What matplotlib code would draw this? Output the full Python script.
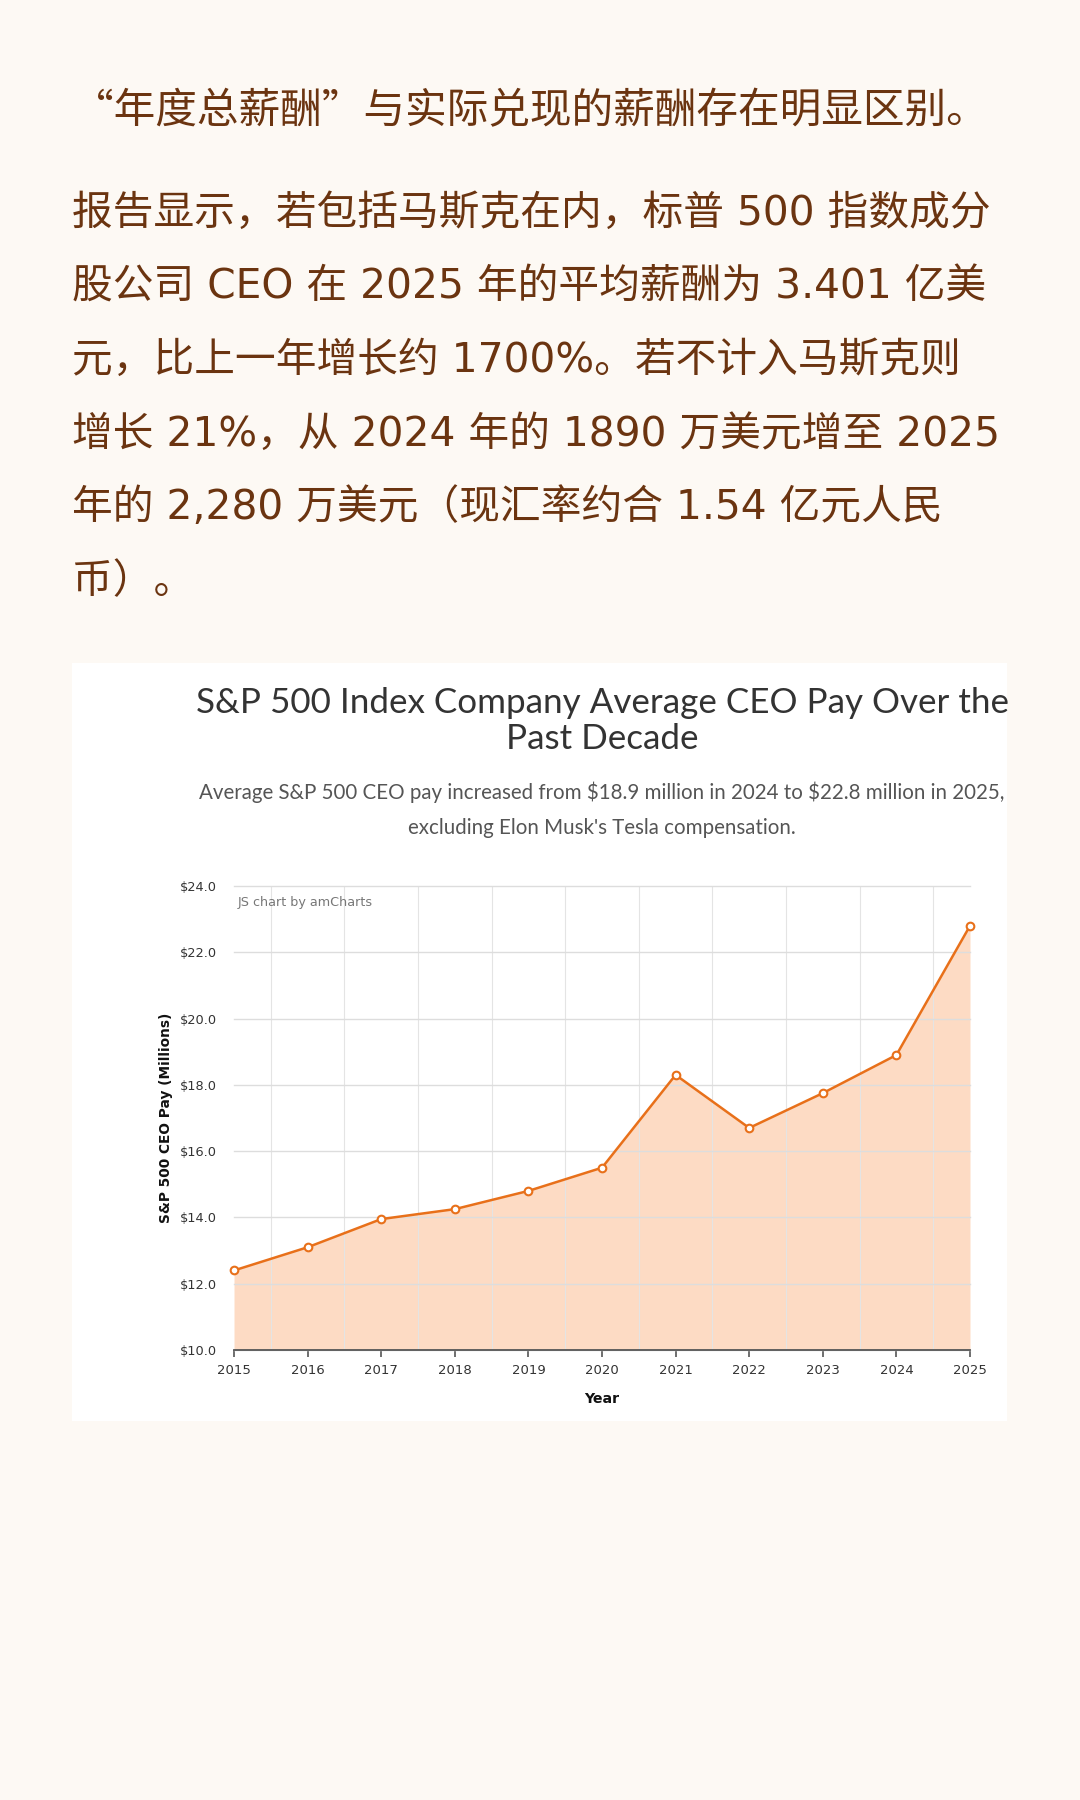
import matplotlib
matplotlib.use("Agg")
import matplotlib.pyplot as plt
from matplotlib.patches import Rectangle

# ---- data -------------------------------------------------------------
YEARS = [2015, 2016, 2017, 2018, 2019, 2020, 2021, 2022, 2023, 2024, 2025]
CEO_PAY = [12.4, 13.1, 13.95, 14.25, 14.8, 15.5, 18.3, 16.7, 17.75, 18.9, 22.8]
Y_TICKS = [10, 12, 14, 16, 18, 20, 22, 24]

INTRO_LINES = [
    "“年度总薪酬”与实际兑现的薪酬存在明显区别。",
]
PARA_LINES = [
    "报告显示，若包括马斯克在内，标普 500 指数成分",
    "股公司 CEO 在 2025 年的平均薪酬为 3.401 亿美",
    "元，比上一年增长约 1700%。若不计入马斯克则",
    "增长 21%，从 2024 年的 1890 万美元增至 2025",
    "年的 2,280 万美元（现汇率约合 1.54 亿元人民",
    "币）。",
]
TITLE = "S&P 500 Index Company Average CEO Pay Over the\nPast Decade"
SUBTITLE = ("Average S&P 500 CEO pay increased from \\$18.9 million in 2024 to \\$22.8 million in 2025,\n"
            "excluding Elon Musk's Tesla compensation.")

# ---- style ------------------------------------------------------------
W, H = 1080, 1800
BG = "#FDF9F4"
TEXT_BROWN = "#6B3410"
LINE_ORANGE = "#E8701A"
CJK = ["Noto Sans CJK SC", "DejaVu Sans"]
MIXED = ["DejaVu Sans", "Noto Sans CJK SC"]


def fx(px):
    return px / W


def fy(py):
    return 1 - py / H


fig = plt.figure(figsize=(W / 100, H / 100), dpi=100, facecolor=BG)

# article text
fig.text(fx(72), fy(112), INTRO_LINES[0], family=CJK, fontsize=30,
         color=TEXT_BROWN, ha="left", va="center")
for i, line in enumerate(PARA_LINES):
    fig.text(fx(72), fy(214 + i * 73.6), line, family=MIXED, fontsize=29.3,
             color=TEXT_BROWN, ha="left", va="center")

# white chart card
card = Rectangle((fx(72), fy(1421)), fx(1007 - 72), (1421 - 663) / H,
                 transform=fig.transFigure, facecolor="white",
                 edgecolor="none", zorder=-5)
fig.add_artist(card)

fig.text(fx(602), fy(721), TITLE, family="Lato", fontsize=25.2, color="#333333",
         ha="center", va="center", linespacing=1.18)
fig.text(fx(602), fy(810), SUBTITLE, family="Lato", fontsize=14.8, color="#555555",
         ha="center", va="center", linespacing=1.95)

# chart axes
ax = fig.add_axes([fx(234), fy(1350), fx(970 - 234), (1350 - 886) / H])
ax.set_facecolor("white")
ax.fill_between(YEARS, CEO_PAY, 10, color="#F98A3C", alpha=0.3, lw=0, zorder=1)
ax.plot(YEARS, CEO_PAY, color=LINE_ORANGE, lw=1.8, zorder=3,
        marker="o", markersize=5.5, markerfacecolor="white",
        markeredgecolor=LINE_ORANGE, markeredgewidth=1.5, clip_on=False)

ax.set_xlim(2015, 2025)
ax.set_ylim(10, 24)
ax.set_yticks(Y_TICKS)
ax.set_yticklabels([f"\\${v:.1f}" for v in Y_TICKS])
ax.set_xticks(YEARS)
ax.set_xticklabels([str(y) for y in YEARS])
ax.set_xticks([y + 0.5 for y in YEARS[:-1]], minor=True)

ax.grid(axis="y", which="major", color="#DDDDDD", lw=1.0, zorder=2)
ax.grid(axis="x", which="minor", color="#E4E4E4", lw=0.8, zorder=2)
ax.grid(axis="x", which="major", visible=False)
for gl in ax.get_ygridlines():
    gl.set_clip_on(False)

for side in ("top", "right", "left"):
    ax.spines[side].set_visible(False)
ax.spines["bottom"].set_color("#555555")
ax.spines["bottom"].set_linewidth(1.3)
ax.spines["bottom"].set_zorder(4)

ax.tick_params(axis="y", length=0, pad=12, labelsize=9.3, labelcolor="#333333")
ax.tick_params(axis="x", which="major", length=5, width=1.2, color="#555555",
               direction="out", pad=5, labelsize=9.5, labelcolor="#333333")
ax.tick_params(axis="x", which="minor", length=0)
for lab in ax.get_xticklabels() + ax.get_yticklabels():
    lab.set_family("DejaVu Sans")

ax.text(0.005, 0.965, "JS chart by amCharts", transform=ax.transAxes,
        fontsize=9.2, color="#777777", ha="left", va="center", family="DejaVu Sans")

fig.text(fx(166), fy(1118), "S&P 500 CEO Pay (Millions)", rotation=90,
         fontsize=9.9, fontweight="bold", color="#111111", ha="center", va="center",
         family="DejaVu Sans")
fig.text(fx(602), fy(1399), "Year", fontsize=10.2, fontweight="bold",
         color="#111111", ha="center", va="center", family="DejaVu Sans")

fig.savefig("out.png", dpi=100, facecolor=BG)
